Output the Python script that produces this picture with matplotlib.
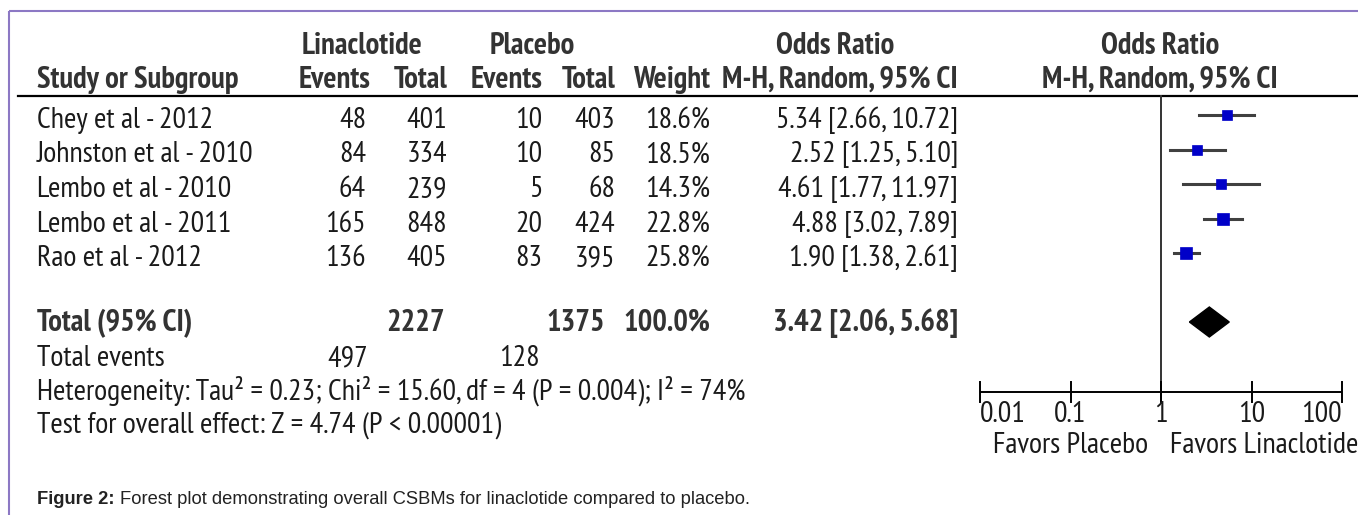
import numpy as np
import matplotlib
matplotlib.use("Agg")
import matplotlib.pyplot as plt
from matplotlib import font_manager
from matplotlib.font_manager import FontProperties

# study-level data
studies = ["Chey et al - 2012", "Johnston et al - 2010", "Lembo et al - 2010",
           "Lembo et al - 2011", "Rao et al - 2012"]
lin_events = [48, 84, 64, 165, 136]
lin_total = [401, 334, 239, 848, 405]
pla_events = [10, 10, 5, 20, 83]
pla_total = [403, 85, 68, 424, 395]
weights = [18.6, 18.5, 14.3, 22.8, 25.8]
odds = [5.34, 2.52, 4.61, 4.88, 1.90]
ci_low = [2.66, 1.25, 1.77, 3.02, 1.38]
ci_high = [10.72, 5.10, 11.97, 7.89, 2.61]

# pooled result
total_lin, total_pla = 2227, 1375
events_lin, events_pla = 497, 128
pooled_or, pooled_low, pooled_high = 3.42, 2.06, 5.68
heterogeneity = "Heterogeneity: Tau\u00b2 = 0.23; Chi\u00b2 = 15.60, df = 4 (P = 0.004); I\u00b2 = 74%"
overall = "Test for overall effect: Z = 4.74 (P < 0.00001)"
axis_ticks = [0.01, 0.1, 1, 10, 100]
caption_bold = "Figure 2:"
caption = "Forest plot demonstrating overall CSBMs for linaclotide compared to placebo."

W, H = 1358, 515


def weight_of(entry):
    w = entry.weight
    if isinstance(w, int):
        return w
    return 700 if "bold" in str(w) else 400


def narrow_faces():
    """Pick regular and bold narrow sans faces, preferring a shared family."""
    faces = []
    for key in ("Narrow", "Condensed"):
        for f in font_manager.fontManager.ttflist:
            label = f.name + " " + f.fname
            if key in label and f.style == "normal" and "Mono" not in label \
                    and "Serif" not in label:
                faces.append(f)
    regs = [f for f in faces if weight_of(f) < 500]
    bolds = [f for f in faces if weight_of(f) >= 600]
    for r in regs:
        for b in bolds:
            if b.name == r.name:
                return r.fname, b.fname
    if regs and bolds:
        return regs[0].fname, bolds[0].fname
    return None, None


reg_file, bold_file = narrow_faces()
if reg_file:
    reg = FontProperties(fname=reg_file, size=16)
    bld = FontProperties(fname=bold_file, size=16)
else:
    reg = FontProperties(family="DejaVu Sans", size=14)
    bld = FontProperties(family="DejaVu Sans", weight="bold", size=14)
capf = FontProperties(family="Liberation Sans", size=12)
capb = FontProperties(family="Liberation Sans", weight="bold", size=12)

fig = plt.figure(figsize=(W / 100, H / 100), dpi=100)
renderer = fig.canvas.get_renderer()


def fit_size(prop, text, target):
    # scale font size so that the text line spans the target pixel width
    t = fig.text(0, 0, text, fontproperties=prop)
    w = t.get_window_extent(renderer).width
    t.remove()
    prop.set_size(prop.get_size() * target / w)


fit_size(reg, heterogeneity, 708)
fit_size(bld, "Study or Subgroup", 201)
fit_size(capf, caption_bold + " " + caption, 708)
capb.set_size(capf.get_size())

body = dict(fontproperties=reg, color="#1a1a1a", va="baseline")
head = dict(fontproperties=bld, color="#333333", va="baseline")

ax = fig.add_axes([0, 0, 1, 1])
ax.set_xlim(0, W)
ax.set_ylim(H, 0)
ax.axis("off")

# frame
ax.plot([9, W], [11, 11], color="#8c78c4", lw=1.5, solid_capstyle="butt")
ax.plot([9, 9], [11, H], color="#8c78c4", lw=1.5, solid_capstyle="butt")

# header
y1, y2 = 54, 88
ax.text(362, y1, "Linaclotide", ha="center", **head)
ax.text(532, y1, "Placebo", ha="center", **head)
ax.text(835, y1, "Odds Ratio", ha="center", **head)
ax.text(1160, y1, "Odds Ratio", ha="center", **head)
ax.text(37, y2, "Study or Subgroup", ha="left", **head)
cols = [370, 447, 542, 615, 710, 958]
for x, lab in zip(cols, ["Events", "Total", "Events", "Total", "Weight",
                         "M-H, Random, 95% CI"]):
    ax.text(x, y2, lab, ha="right", **head)
ax.text(1160, y2, "M-H, Random, 95% CI", ha="center", **head)
ax.plot([18, W], [96, 96], color="black", lw=1.6)

# study rows
row_base = 128 + 34.5 * np.arange(len(studies))
for i, y in enumerate(row_base):
    ax.text(37, y, studies[i], ha="left", **body)
    ax.text(366, y, str(lin_events[i]), ha="right", **body)
    ax.text(447, y, str(lin_total[i]), ha="right", **body)
    ax.text(542, y, str(pla_events[i]), ha="right", **body)
    ax.text(615, y, str(pla_total[i]), ha="right", **body)
    ax.text(710, y, f"{weights[i]:.1f}%", ha="right", **body)
    ax.text(958, y, f"{odds[i]:.2f} [{ci_low[i]:.2f}, {ci_high[i]:.2f}]",
            ha="right", **body)

# totals
yt = 331
ax.text(37, yt, "Total (95% CI)", ha="left", **head)
ax.text(445, yt, str(total_lin), ha="right", **head)
ax.text(605, yt, str(total_pla), ha="right", **head)
ax.text(710, yt, f"{sum(weights):.1f}%", ha="right", **head)
ax.text(958, yt, f"{pooled_or:.2f} [{pooled_low:.2f}, {pooled_high:.2f}]",
        ha="right", **head)
ax.text(37, 366, "Total events", ha="left", **body)
ax.text(368, 366, str(events_lin), ha="right", **body)
ax.text(540, 366, str(events_pla), ha="right", **body)
ax.text(37, 400, heterogeneity, ha="left", **body)
ax.text(37, 433, overall, ha="left", **body)

# caption
cap_b = ax.text(37, 504, caption_bold + " ", ha="left", va="baseline",
                fontproperties=capb, color="#222222")
bb = cap_b.get_window_extent(renderer)
ax.text(bb.x1, 504, caption, ha="left", va="baseline", fontproperties=capf,
        color="#222222")

# forest panel on a log axis
x0, x1 = 980, 1342
fx = fig.add_axes([x0 / W, 0, (x1 - x0) / W, 1])
fx.set_xscale("log")
fx.set_xlim(axis_ticks[0], axis_ticks[-1])
fx.set_ylim(H, 0)
fx.axis("off")

fx.plot([1, 1], [96, 401], color="#333333", lw=1.4)
for i, y in enumerate(row_base):
    ym = y - 13
    fx.plot([ci_low[i], ci_high[i]], [ym, ym], color="#404040", lw=2.2)
    side = 2.5 * np.sqrt(weights[i])
    fx.plot(odds[i], ym, marker="s", ms=side * 0.72, color="#0000c8",
            markeredgecolor="#0000c8", markeredgewidth=0.5)
dy = 15
yd = yt - 9
fx.fill([pooled_low, pooled_or, pooled_high, pooled_or],
        [yd, yd - dy, yd, yd + dy], color="black")

ya = 392
fx.plot([axis_ticks[0], axis_ticks[-1]], [ya, ya], color="black", lw=1.4)
for t in axis_ticks:
    fx.plot([t, t], [ya - 10, ya + 10], color="black", lw=1.4, clip_on=False)
    ha = "left" if t == axis_ticks[0] else ("right" if t == axis_ticks[-1] else "center")
    fx.text(t, 422, f"{t:g}", ha=ha, **body)
fx.text(0.1, 453, "Favors Placebo", ha="center", **body)
fx.text(1.27, 453, "Favors Linaclotide", ha="left", clip_on=False, **body)

fig.savefig("out.png", dpi=100)
